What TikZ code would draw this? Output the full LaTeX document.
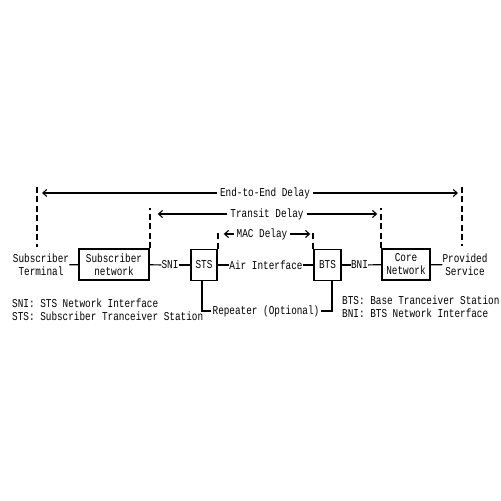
\documentclass[tikz,border=0pt]{standalone}
\usepackage{fontspec}
\setmainfont{Liberation Mono}[FakeStretch=0.78]
\usetikzlibrary{arrows.meta}
\begin{document}
\begin{tikzpicture}[x=1pt,y=1pt,
    box/.style={draw, line width=1.4pt, minimum height=31pt, inner sep=0pt, align=center},
    lbl/.style={inner sep=0pt, align=center},
    dashdelay/.style={line width=1.8pt, dash pattern=on 6pt off 3.5pt},
    delayarrow/.style={line width=1.1pt, -{Straight Barb[length=4pt,width=7pt]}},
    wire/.style={line width=1.2pt}]
    \fontsize{12}{13}\selectfont
    \useasboundingbox (0,0) rectangle (501,501);
    % main chain
    \node[lbl] (term) at (41,236) {Subscriber\\Terminal};
    \node[box, minimum width=70pt] (subnet) at (114,236.5) {Subscriber\\network};
    \node[lbl] (sni) at (170,236) {SNI};
    \node[box, minimum width=26pt] (sts) at (204,236) {STS};
    \node[lbl] (air) at (266,236) {Air Interface};
    \node[box, minimum width=27pt] (bts) at (327.5,236) {BTS};
    \node[lbl] (bni) at (359.5,236) {BNI};
    \node[box, minimum width=48pt] (core) at (406,236.5) {Core\\Network};
    \node[lbl] (prov) at (465,236) {Provided\\Service};
    \draw[wire] (term) -- (subnet);
    \draw[wire] (subnet) -- (sni);
    \draw[wire] (sni) -- (sts);
    \draw[wire] (sts) -- (air);
    \draw[wire] (air) -- (bts);
    \draw[wire] (bts) -- (bni);
    \draw[wire] (bni) -- (core);
    \draw[wire] (core) -- (prov);
    % repeater
    \node[lbl] (rep) at (266,190) {Repeater (Optional)};
    \draw[wire] ([xshift=-2pt]sts.south) |- ([xshift=-1pt]rep.west);
    \draw[wire] ([xshift=4.5pt]bts.south) |- ([xshift=1pt]rep.east);
    % delays
    \coordinate (e2eL) at (37,314);
    \coordinate (e2eR) at (462,314);
    \draw[dashdelay] (e2eL) -- ++(0,-60);
    \draw[dashdelay] (e2eR) -- ++(0,-59);
    \draw[dashdelay] (subnet.north east) -- ++(0,40);
    \draw[dashdelay] (core.north west) -- ++(0,40);
    \draw[dashdelay] (sts.north east) -- ++(0,17);
    \draw[dashdelay] (bts.north west) -- ++(0,17);
    \node[lbl, inner xsep=3pt] (e2e) at (265,308) {End-to-End Delay};
    \node[lbl, inner xsep=3pt] (transit) at (267,287) {Transit Delay};
    \node[lbl, inner xsep=3pt] (mac) at (262,267) {MAC Delay};
    \draw[delayarrow, shorten >=5pt] (e2e.west) -- (e2e.west -| e2eL);
    \draw[delayarrow, shorten >=4pt] (e2e.east) -- (e2e.east -| e2eR);
    \draw[delayarrow, shorten >=8pt] (transit.west) -- (transit.west -| subnet.east);
    \draw[delayarrow, shorten >=4pt] (transit.east) -- (transit.east -| core.west);
    \draw[delayarrow, shorten >=6pt] (mac.west) -- (mac.west -| sts.east);
    \draw[delayarrow, shorten >=3pt] (mac.east) -- (mac.east -| bts.west);
    % legends
    \node[lbl, anchor=west] (sniLeg) at (12,198) {SNI: STS Network Interface};
    \node[lbl, anchor=west] (stsLeg) at (12,185) {STS: Subscriber Tranceiver Station};
    \node[lbl, anchor=west] (btsLeg) at (342,201) {BTS: Base Tranceiver Station};
    \node[lbl, anchor=west] (bniLeg) at (342,188) {BNI: BTS Network Interface};
\end{tikzpicture}
\end{document}
